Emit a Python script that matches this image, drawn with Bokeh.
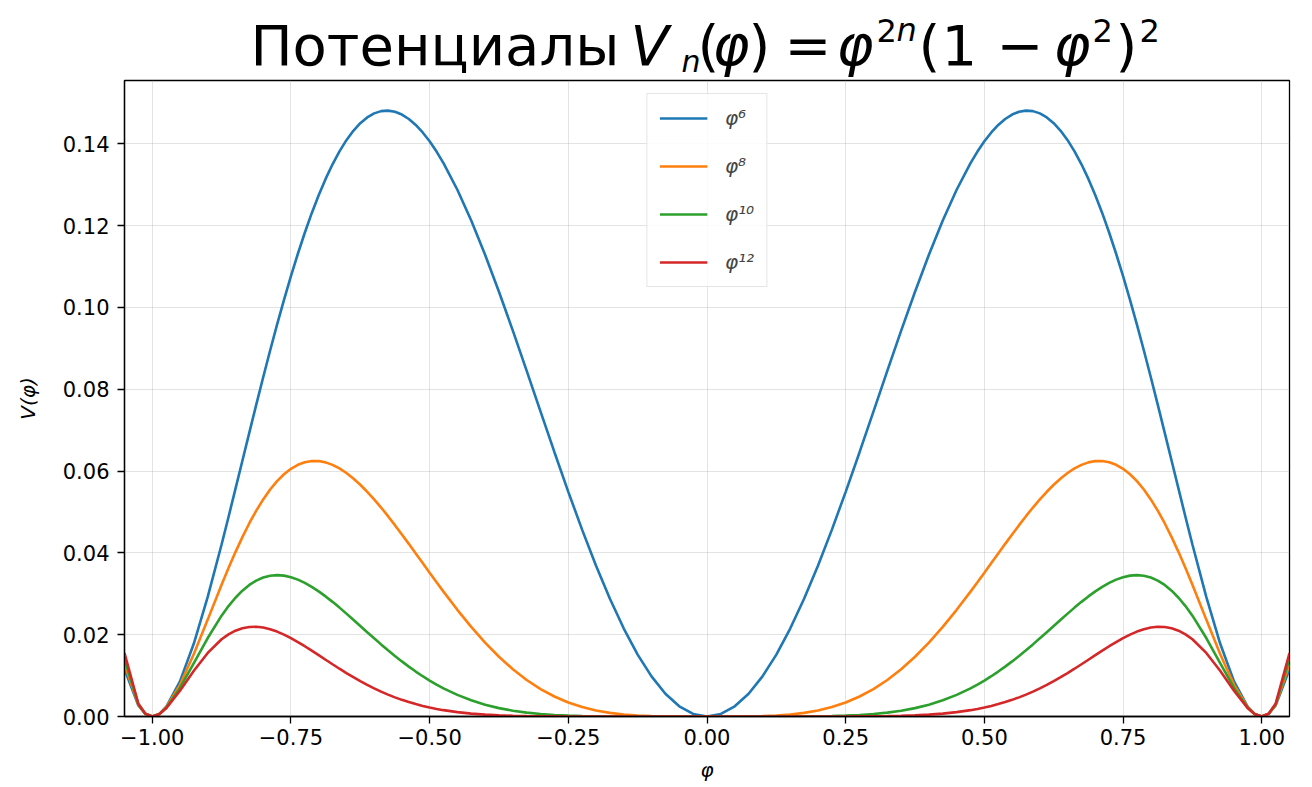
from bokeh.plotting import figure
from bokeh.layouts import column
from bokeh.models import Range1d, FixedTicker, Legend, LegendItem, ColumnDataSource
from bokeh.core.properties import value
from bokeh.embed import file_html
from bokeh.resources import INLINE

# ---------------- data ----------------
PHI = [-1.05, -1.025, -1.0125, -1.0, -0.9875, -0.975, -0.95, -0.925, -0.9, -0.875,
       -0.8625, -0.85, -0.8375, -0.825, -0.8125, -0.8, -0.7875, -0.775, -0.7625, -0.75,
       -0.7375, -0.725, -0.7125, -0.7, -0.6875, -0.675, -0.6625, -0.65, -0.6375, -0.625,
       -0.6125, -0.6, -0.5875, -0.575, -0.5625, -0.55, -0.5375, -0.525, -0.5125, -0.5,
       -0.4875, -0.475, -0.45, -0.425, -0.4, -0.375, -0.35, -0.325, -0.3, -0.275,
       -0.25, -0.225, -0.2, -0.175, -0.15, -0.125, -0.1, -0.075, -0.05, -0.025,
       0.0,
       0.025, 0.05, 0.075, 0.1, 0.125, 0.15, 0.175, 0.2, 0.225, 0.25,
       0.275, 0.3, 0.325, 0.35, 0.375, 0.4, 0.425, 0.45, 0.475, 0.4875,
       0.5, 0.5125, 0.525, 0.5375, 0.55, 0.5625, 0.575, 0.5875, 0.6, 0.6125,
       0.625, 0.6375, 0.65, 0.6625, 0.675, 0.6875, 0.7, 0.7125, 0.725, 0.7375,
       0.75, 0.7625, 0.775, 0.7875, 0.8, 0.8125, 0.825, 0.8375, 0.85, 0.8625,
       0.875, 0.9, 0.925, 0.95, 0.975, 0.9875, 1.0, 1.0125, 1.025, 1.05]

V_PHI6 = [0.01158, 0.00269, 0.00065, 0.0, 0.00060, 0.00232, 0.00858, 0.01784, 0.02924, 0.04206,
          0.04879, 0.05564, 0.06254, 0.06942, 0.07624, 0.08294, 0.08948, 0.09580, 0.10187, 0.10767,
          0.11314, 0.11828, 0.12306, 0.12745, 0.13144, 0.13502, 0.13818, 0.14091, 0.14320, 0.14505,
          0.14647, 0.14746, 0.14801, 0.14814, 0.14786, 0.14717, 0.14609, 0.14463, 0.14280, 0.14063,
          0.13812, 0.13530, 0.12879, 0.12127, 0.11290, 0.10386, 0.09433, 0.08449, 0.07453, 0.06462,
          0.05493, 0.04563, 0.03686, 0.02878, 0.02150, 0.01514, 0.00980, 0.00556, 0.00249, 0.00062,
          0.0,
          0.00062, 0.00249, 0.00556, 0.00980, 0.01514, 0.02150, 0.02878, 0.03686, 0.04563, 0.05493,
          0.06462, 0.07453, 0.08449, 0.09433, 0.10386, 0.11290, 0.12127, 0.12879, 0.13530, 0.13812,
          0.14063, 0.14280, 0.14463, 0.14609, 0.14717, 0.14786, 0.14814, 0.14801, 0.14746, 0.14647,
          0.14505, 0.14320, 0.14091, 0.13818, 0.13502, 0.13144, 0.12745, 0.12306, 0.11828, 0.11314,
          0.10767, 0.10187, 0.09580, 0.08948, 0.08294, 0.07624, 0.06942, 0.06254, 0.05564, 0.04879,
          0.04206, 0.02924, 0.01784, 0.00858, 0.00232, 0.00060, 0.0, 0.00065, 0.00269, 0.01158]

V_PHI8 = [0.01277, 0.00283, 0.00067, 0.0, 0.00059, 0.00220, 0.00774, 0.01526, 0.02369, 0.03220,
          0.03629, 0.04020, 0.04386, 0.04725, 0.05033, 0.05308, 0.05549, 0.05754, 0.05923, 0.06056,
          0.06154, 0.06217, 0.06247, 0.06245, 0.06213, 0.06152, 0.06065, 0.05953, 0.05820, 0.05666,
          0.05495, 0.05308, 0.05109, 0.04898, 0.04678, 0.04452, 0.04221, 0.03986, 0.03751, 0.03516,
          0.03282, 0.03053, 0.02608, 0.02190, 0.01806, 0.01461, 0.01156, 0.00892, 0.00671, 0.00489,
          0.00343, 0.00231, 0.00147, 0.00088, 0.00048, 0.00024, 0.00010, 0.00003, 0.00001, 0.0,
          0.0,
          0.0, 0.00001, 0.00003, 0.00010, 0.00024, 0.00048, 0.00088, 0.00147, 0.00231, 0.00343,
          0.00489, 0.00671, 0.00892, 0.01156, 0.01461, 0.01806, 0.02190, 0.02608, 0.03053, 0.03282,
          0.03516, 0.03751, 0.03986, 0.04221, 0.04452, 0.04678, 0.04898, 0.05109, 0.05308, 0.05495,
          0.05666, 0.05820, 0.05953, 0.06065, 0.06152, 0.06213, 0.06245, 0.06247, 0.06217, 0.06154,
          0.06056, 0.05923, 0.05754, 0.05549, 0.05308, 0.05033, 0.04725, 0.04386, 0.04020, 0.03629,
          0.03220, 0.02369, 0.01526, 0.00774, 0.00220, 0.00059, 0.0, 0.00067, 0.00283, 0.01277]

V_PHI10 = [0.01408, 0.00297, 0.00068, 0.0, 0.00057, 0.00209, 0.00699, 0.01306, 0.01919, 0.02465,
           0.02700, 0.02904, 0.03077, 0.03216, 0.03323, 0.03397, 0.03441, 0.03456, 0.03444, 0.03407,
           0.03347, 0.03268, 0.03171, 0.03060, 0.02936, 0.02803, 0.02662, 0.02515, 0.02365, 0.02213,
           0.02061, 0.01911, 0.01763, 0.01619, 0.01480, 0.01347, 0.01219, 0.01099, 0.00985, 0.00879,
           0.00780, 0.00689, 0.00528, 0.00396, 0.00289, 0.00205, 0.00142, 0.00094, 0.00060, 0.00037,
           0.00021, 0.00012, 0.00006, 0.00003, 0.00001, 0.0, 0.0, 0.0, 0.0, 0.0,
           0.0,
           0.0, 0.0, 0.0, 0.0, 0.0, 0.00001, 0.00003, 0.00006, 0.00012, 0.00021,
           0.00037, 0.00060, 0.00094, 0.00142, 0.00205, 0.00289, 0.00396, 0.00528, 0.00689, 0.00780,
           0.00879, 0.00985, 0.01099, 0.01219, 0.01347, 0.01480, 0.01619, 0.01763, 0.01911, 0.02061,
           0.02213, 0.02365, 0.02515, 0.02662, 0.02803, 0.02936, 0.03060, 0.03171, 0.03268, 0.03347,
           0.03407, 0.03444, 0.03456, 0.03441, 0.03397, 0.03323, 0.03216, 0.03077, 0.02904, 0.02700,
           0.02465, 0.01919, 0.01306, 0.00699, 0.00209, 0.00057, 0.0, 0.00068, 0.00297, 0.01408]

V_PHI12 = [0.01552, 0.00312, 0.00070, 0.0, 0.00056, 0.00199, 0.00631, 0.01117, 0.01554, 0.01888,
           0.02008, 0.02098, 0.02158, 0.02189, 0.02194, 0.02174, 0.02134, 0.02076, 0.02002, 0.01916,
           0.01821, 0.01718, 0.01610, 0.01499, 0.01388, 0.01277, 0.01168, 0.01063, 0.00961, 0.00865,
           0.00773, 0.00688, 0.00609, 0.00535, 0.00468, 0.00407, 0.00352, 0.00303, 0.00259, 0.00220,
           0.00185, 0.00155, 0.00107, 0.00071, 0.00046, 0.00029, 0.00017, 0.00010, 0.00005, 0.00003,
           0.00001, 0.00001, 0.0, 0.0, 0.0, 0.0, 0.0, 0.0, 0.0, 0.0,
           0.0,
           0.0, 0.0, 0.0, 0.0, 0.0, 0.0, 0.0, 0.0, 0.00001, 0.00001,
           0.00003, 0.00005, 0.00010, 0.00017, 0.00029, 0.00046, 0.00071, 0.00107, 0.00155, 0.00185,
           0.00220, 0.00259, 0.00303, 0.00352, 0.00407, 0.00468, 0.00535, 0.00609, 0.00688, 0.00773,
           0.00865, 0.00961, 0.01063, 0.01168, 0.01277, 0.01388, 0.01499, 0.01610, 0.01718, 0.01821,
           0.01916, 0.02002, 0.02076, 0.02134, 0.02174, 0.02194, 0.02189, 0.02158, 0.02098, 0.02008,
           0.01888, 0.01554, 0.01117, 0.00631, 0.00199, 0.00056, 0.0, 0.00070, 0.00312, 0.01552]

SERIES_NAMES = ["φ⁶", "φ⁸", "φ¹⁰", "φ¹²"]
SERIES_VALUES = [V_PHI6, V_PHI8, V_PHI10, V_PHI12]
SERIES_COLORS = ["#1f77b4", "#ff7f0e", "#2ca02c", "#d62728"]

X_TICKS = [-1.0, -0.75, -0.5, -0.25, 0.0, 0.25, 0.5, 0.75, 1.0]
X_TICK_LABELS = ["−1.00", "−0.75", "−0.50", "−0.25", "0.00", "0.25", "0.50", "0.75", "1.00"]
Y_TICKS = [0.0, 0.02, 0.04, 0.06, 0.08, 0.10, 0.12, 0.14]
Y_TICK_LABELS = ["0.00", "0.02", "0.04", "0.06", "0.08", "0.10", "0.12", "0.14"]

X_LABEL = "φ"
Y_LABEL = "V(φ)"

FONT = "DejaVu Sans"

for vals in SERIES_VALUES:
    assert len(vals) == len(PHI), (len(vals), len(PHI))

# ---------------- layout constants ----------------
W, H = 1312, 787
TITLE_H = 79                          # height of the title strip
FL, FR, FT, FB = 124, 1289, 80, 716   # frame edges in page pixels

# ---------------- title strip (mathtext-like, built from pieces) ----------------
# the column aligns this strip's frame with the plot frame (x: FL..FR), so x = page x
t = figure(width=W, height=TITLE_H, output_backend="svg", toolbar_location=None,
           x_range=Range1d(FL, FR), y_range=Range1d(TITLE_H, 0),
           min_border=0, x_axis_location=None, y_axis_location=None)
t.outline_line_color = None
t.grid.visible = False
t.background_fill_color = "white"
t.border_fill_color = "white"

MAIN_PX = 56
SUP_PX = 32
SUB_PX = 30
MID = 0.346   # distance (in em) from the baseline up to the middle of the line box
BASE = 64     # page y of main baseline
SUP = 41      # page y of superscript baseline
SUB = 71      # page y of subscript baseline
title_parts = [
    ("Потенциалы", 250, BASE, MAIN_PX, "normal"),
    ("V", 630, BASE, MAIN_PX, "italic"),
    ("n", 681, SUB, SUB_PX, "italic"),
    ("(", 697, BASE, MAIN_PX, "normal"),
    ("φ", 712, BASE, MAIN_PX, "italic"),
    (")", 748, BASE, MAIN_PX, "normal"),
    ("=", 784, BASE, MAIN_PX, "normal"),
    ("φ", 836, BASE, MAIN_PX, "italic"),
    ("2", 876, SUP, SUP_PX, "normal"),
    ("n", 896, SUP, SUP_PX, "italic"),
    ("(", 918, BASE, MAIN_PX, "normal"),
    ("1", 941, BASE, MAIN_PX, "normal"),
    ("−", 996, BASE, MAIN_PX, "normal"),
    ("φ", 1053, BASE, MAIN_PX, "italic"),
    ("2", 1092, SUP, SUP_PX, "normal"),
    (")", 1115, BASE, MAIN_PX, "normal"),
    ("2", 1139, SUP, SUP_PX, "normal"),
]
groups = {}
for txt, px, py, size, style in title_parts:
    g = groups.setdefault((size, style), {"x": [], "y": [], "text": []})
    g["x"].append(px)
    g["y"].append(py - MID * size)
    g["text"].append(txt)
for (size, style), g in groups.items():
    t.text(x="x", y="y", text="text", source=ColumnDataSource(g),
           text_font=value(FONT), text_font_size=value(f"{size}px"),
           text_font_style=style, text_color="black",
           text_align="left", text_baseline="middle")

# ---------------- main plot ----------------
p = figure(width=W, height=H - TITLE_H, output_backend="svg", toolbar_location=None,
           x_range=Range1d(-1.05, 1.05), y_range=Range1d(0.0, 0.1555),
           min_border_left=FL, min_border_right=W - FR,
           min_border_top=FT - TITLE_H, min_border_bottom=H - FB)
p.background_fill_color = "white"
p.border_fill_color = "white"
p.outline_line_color = "black"
p.outline_line_width = 1.3

for ax, ticks, labels in ((p.xaxis[0], X_TICKS, X_TICK_LABELS), (p.yaxis[0], Y_TICKS, Y_TICK_LABELS)):
    ax.ticker = FixedTicker(ticks=ticks)
    ax.major_label_overrides = {tk: lb for tk, lb in zip(ticks, labels)}
    ax.axis_line_color = "black"
    ax.axis_line_width = 1.3
    ax.major_tick_line_color = "black"
    ax.major_tick_line_width = 1.3
    ax.major_tick_out = 7
    ax.major_tick_in = 0
    ax.minor_tick_line_color = None
    ax.major_label_text_font = FONT
    ax.major_label_text_font_size = "21px"
    ax.major_label_text_color = "black"
    ax.axis_label_text_font = FONT
    ax.axis_label_text_font_size = "20px"
    ax.axis_label_text_font_style = "italic"
    ax.axis_label_text_color = "black"

p.xaxis.axis_label = X_LABEL
p.yaxis.axis_label = Y_LABEL
p.xaxis.major_label_standoff = 5
p.yaxis.major_label_standoff = 8
p.xaxis.axis_label_standoff = 10
p.yaxis.axis_label_standoff = 20

p.grid.grid_line_color = "#b0b0b0"
p.grid.grid_line_alpha = 0.35
p.grid.grid_line_width = 1

items = []
for name, vals, col in zip(SERIES_NAMES, SERIES_VALUES, SERIES_COLORS):
    r = p.line(PHI, vals, line_color=col, line_width=2.6)
    items.append(LegendItem(label=name, renderers=[r]))

legend = Legend(items=items, location="top_center", margin=13,
                padding=12, spacing=24, glyph_width=48, glyph_height=24,
                label_height=24, label_standoff=18,
                label_text_font=FONT, label_text_font_size="20px",
                label_text_font_style="italic",
                border_line_color="#cccccc", border_line_width=1.2,
                background_fill_color="white", background_fill_alpha=0.85)
p.add_layout(legend)

layout = column(t, p, spacing=0)
open("out.html", "w").write(file_html(layout, INLINE))
